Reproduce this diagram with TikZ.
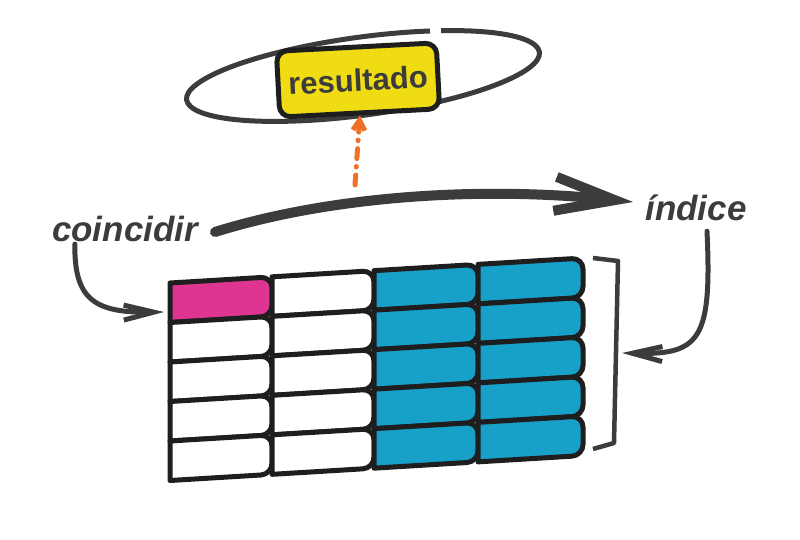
\documentclass[tikz,border=0pt]{standalone}
\usepackage{fontspec}
\setmainfont{Liberation Sans}
\usetikzlibrary{arrows.meta,calc}
\definecolor{ink}{HTML}{3C3C3C}
\definecolor{edge}{HTML}{1E1E1E}
\definecolor{mag}{HTML}{DF3592}
\definecolor{cyanb}{HTML}{17A0C8}
\definecolor{yel}{HTML}{F0DC12}
\definecolor{org}{HTML}{F07028}
\begin{document}
\begin{tikzpicture}[x=1pt,y=-1pt,
  cell/.style={draw=edge, line width=5pt, line join=round},
  conn/.style={draw=ink, line width=5pt, line cap=round, -{Straight Barb[length=30pt,width=15pt]}},
  lbl/.style={font=\bfseries\itshape\fontsize{35}{40}\selectfont, text=ink, inner sep=0pt}]
\useasboundingbox (0,0) rectangle (800,540);

% grid of cells
\foreach \c/\xl/\xr in {0/170/272, 1/272/374, 2/374/478, 3/478/583}{
  \foreach \r in {0,...,4}{
    \pgfmathsetmacro{\ytl}{283+39.5*\r-0.0605*(\xl-170)}
    \pgfmathsetmacro{\ybl}{283+39.5*(\r+1)-0.0605*(\xl-170)}
    \pgfmathsetmacro{\ytr}{283+39.5*\r-0.0605*(\xr-170)}
    \pgfmathsetmacro{\ybr}{283+39.5*(\r+1)-0.0605*(\xr-170)}
    \ifnum\c>1 \def\fc{cyanb}\else
      \ifnum\r=0 \ifnum\c=0 \def\fc{mag}\else\def\fc{white}\fi
      \else\def\fc{white}\fi
    \fi
    \path[cell, fill=\fc] (\xl,\ybl) -- (\xl,\ytl) [rounded corners=11pt] -- (\xr,\ytr) -- (\xr,\ybr) [sharp corners] -- cycle;
  }
}

% bracket
\draw[ink, line width=4.5pt, line join=round] (593,258) -- (618,261) -- (614,443) -- (593,449);
\coordinate (brk) at (622,353);
\coordinate (cellA) at (164,312);

% labels
\node[lbl] (coincidir) at (125,229) {coincidir};
\node[lbl] (indice) at (696,208) {índice};

% ellipse
\begin{scope}[shift={(363,76)}, rotate=7.7]
  \draw[ink, line width=5pt] (-62:178 and 39) arc[start angle=-62, end angle=294, x radius=178, y radius=39];
\end{scope}

% resultado box
\node[rotate=3, draw=edge, line width=5pt, fill=yel, rounded corners=11pt,
      minimum width=160pt, minimum height=66pt,
      font=\bfseries\fontsize{31}{36}\selectfont, text=ink] (resultado) at (358,80) {resultado};

% orange arrow
\coordinate (orS) at (355,185);
\draw[org, line width=5pt, line cap=round, dash pattern=on 10pt off 8pt on 0.5pt off 8pt,
      -{Straight Barb[length=10pt,width=12pt]}] (orS) -- (resultado.south);

% big arrow
\coordinate (bigS) at (215,232);
\coordinate (bigE) at (633,202);
\draw[ink, line width=10pt, line cap=round, -{Straight Barb[length=60pt,width=34pt]}]
  (bigS) .. controls (330,196) and (480,186) .. (bigE);

% connectors
\draw[conn] ($(coincidir.south west)+(23,2)$) .. controls (74,300) and (95,313) .. (cellA);
\draw[conn] ($(indice.south)+(11,10)$) .. controls (712,340) and (700,355) .. (brk);
\end{tikzpicture}
\end{document}
